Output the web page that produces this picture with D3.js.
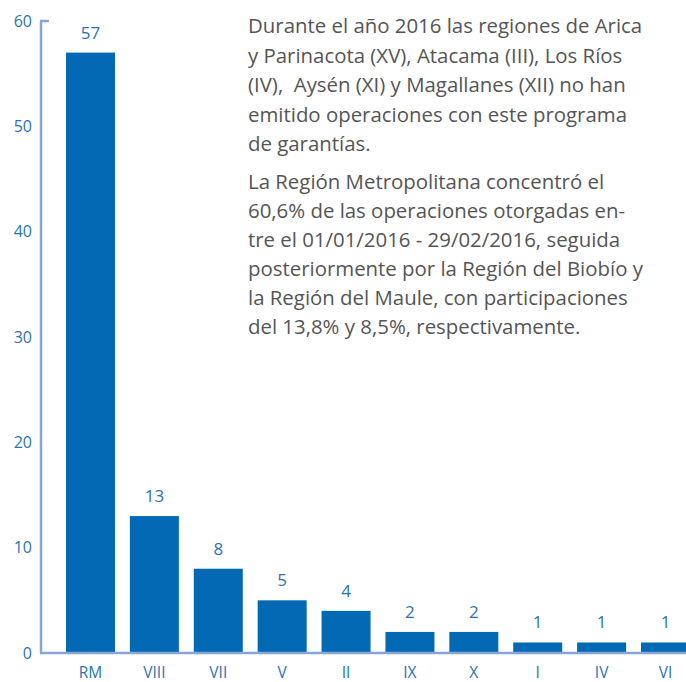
<!DOCTYPE html>
<html><head><meta charset="utf-8">
<script src="https://cdn.jsdelivr.net/npm/d3@7"></script>
<style>body{margin:0;background:#fff}svg{display:block}text{white-space:pre}</style>
</head><body>
<svg id="c" width="686" height="682"></svg>
<script>
const categories = ["RM","VIII","VII","V","II","IX","X","I","IV","VI"];
const values = [57,13,8,5,4,2,2,1,1,1];
const yTicks = [0,10,20,30,40,50,60];
const para1 = ["Durante el año 2016 las regiones de Arica","y Parinacota (XV), Atacama (III), Los Ríos","(IV),  Aysén (XI) y Magallanes (XII) no han","emitido operaciones con este programa","de garantías."];
const para2 = ["La Región Metropolitana concentró el","60,6% de las operaciones otorgadas en-","tre el 01/01/2016 - 29/02/2016, seguida","posteriormente por la Región del Biobío y","la Región del Maule, con participaciones","del 13,8% y 8,5%, respectivamente."];

const svg = d3.select("#c");
const font = "'Open Sans', sans-serif";
const blue = "#0469b5", labelBlue = "#2a73b8", axisBlue = "#85a6d6";
const x = d3.scaleBand().domain(categories).range([66,690]).paddingInner(0.233).paddingOuter(0);
const y = d3.scaleLinear().domain([0,60]).range([653,21]);

svg.selectAll("rect.bar").data(values).join("rect").attr("class","bar")
  .attr("x",(d,i)=>x(categories[i])).attr("width",x.bandwidth())
  .attr("y",d=>y(d)).attr("height",d=>y(0)-y(d)).attr("fill",blue);

svg.selectAll("text.val").data(values).join("text").attr("class","val")
  .attr("x",(d,i)=>x(categories[i])+x.bandwidth()/2).attr("y",d=>y(d)-14)
  .attr("text-anchor","middle").attr("font-family",font).attr("font-size",17)
  .attr("fill",labelBlue).text(d=>d);

// axes
svg.append("line").attr("x1",41).attr("x2",41).attr("y1",y(60)).attr("y2",y(0)).attr("stroke",axisBlue).attr("stroke-width",2.5);
svg.append("line").attr("x1",40).attr("x2",49).attr("y1",y(60)).attr("y2",y(60)).attr("stroke",axisBlue).attr("stroke-width",2.5);
svg.append("line").attr("x1",40).attr("x2",686).attr("y1",y(0)).attr("y2",y(0)).attr("stroke",axisBlue).attr("stroke-width",2.5);

svg.selectAll("text.yt").data(yTicks).join("text").attr("class","yt")
  .attr("x",32).attr("y",d=>y(d)).attr("dy","0.35em").attr("text-anchor","end")
  .attr("font-family",font).attr("font-size",16).attr("fill",labelBlue).text(d=>d);

svg.selectAll("text.xt").data(categories).join("text").attr("class","xt")
  .attr("x",d=>x(d)+x.bandwidth()/2).attr("y",673).attr("dy","0.35em").attr("text-anchor","middle")
  .attr("font-family",font).attr("font-size",15.5).attr("fill",labelBlue).text(d=>d);

const tg = svg.append("g").attr("font-family",font).attr("font-size",20.4).attr("fill","#555");
para1.forEach((t,i)=>tg.append("text").attr("x",248).attr("y",33+i*29.5).text(t));
para2.forEach((t,i)=>tg.append("text").attr("x",248).attr("y",189+i*29).text(t));
</script>
</body></html>
